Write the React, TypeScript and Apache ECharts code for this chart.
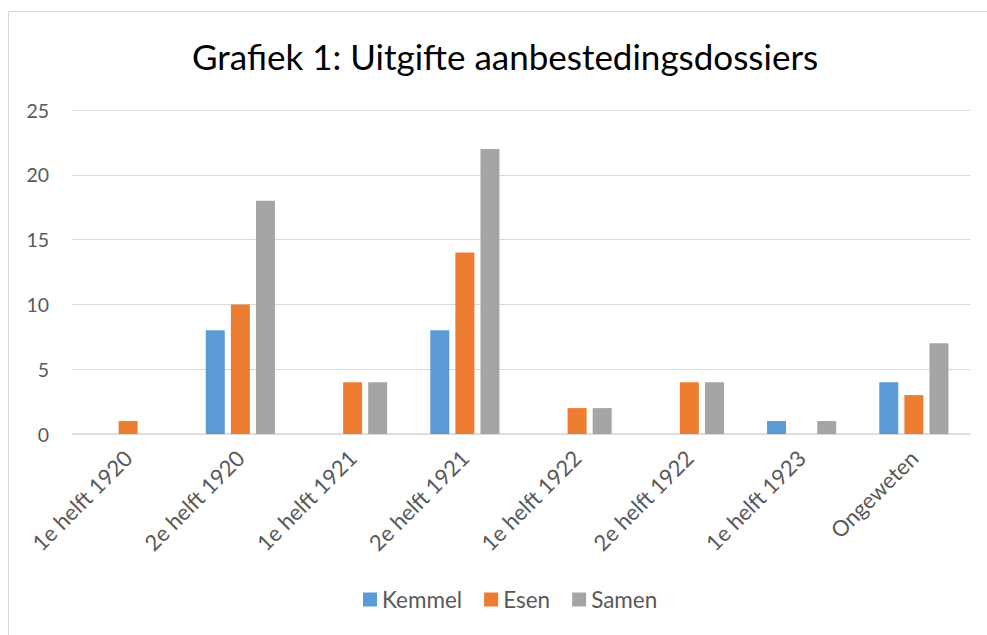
import React, { useEffect, useRef } from "react";
import * as echarts from "echarts";

const categories = [
  "1e helft 1920",
  "2e helft 1920",
  "1e helft 1921",
  "2e helft 1921",
  "1e helft 1922",
  "2e helft 1922",
  "1e helft 1923",
  "Ongeweten",
];
const kemmel = [0, 8, 0, 8, 0, 0, 1, 4];
const esen = [1, 10, 4, 14, 2, 4, 0, 3];
const samen = [0, 18, 4, 22, 2, 4, 1, 7];
const seriesNames = ["Kemmel", "Esen", "Samen"];
const colors = ["#5B9BD5", "#ED7D31", "#A5A5A5"];

const FONT = "Lato, 'Open Sans', sans-serif";

export default function App() {
  const ref = useRef<HTMLDivElement>(null);
  useEffect(() => {
    document.body.style.margin = "0";
    const chart = echarts.init(ref.current!, undefined, { renderer: "svg" });
    const data = [kemmel, esen, samen];
    chart.setOption({
      animation: false,
      backgroundColor: "#ffffff",
      textStyle: { fontFamily: FONT },
      title: {
        text: "Grafiek 1: Uitgifte aanbestedingsdossiers",
        left: 187,
        top: 33,
        textStyle: { fontFamily: FONT, fontSize: 35, fontWeight: "normal", color: "#000000" },
      },
      legend: {
        data: seriesNames,
        bottom: 19,
        left: 358,
        icon: "rect",
        itemWidth: 14,
        itemHeight: 14,
        itemGap: 22,
        textStyle: { fontFamily: FONT, fontSize: 22.5, color: "#595959" },
      },
      grid: { left: 72, right: 17, top: 110, bottom: 201, containLabel: false },
      xAxis: {
        type: "category",
        data: categories,
        axisLine: { lineStyle: { color: "#D9D9D9", width: 1.5 } },
        axisTick: { show: false },
        axisLabel: {
          rotate: 45,
          interval: 0,
          margin: 20,
          fontFamily: FONT,
          fontSize: 22,
          color: "#595959",
        },
      },
      yAxis: {
        type: "value",
        min: 0,
        max: 25,
        interval: 5,
        axisLine: { show: false },
        axisTick: { show: false },
        splitLine: { lineStyle: { color: "#D9D9D9", width: 1 } },
        axisLabel: { margin: 23, fontFamily: FONT, fontSize: 19.5, color: "#595959" },
      },
      graphic: [
        { type: "line", shape: { x1: 8.5, y1: 11.5, x2: 987, y2: 11.5 }, style: { stroke: "#D9D9D9", lineWidth: 1 } },
        { type: "line", shape: { x1: 8.5, y1: 11.5, x2: 8.5, y2: 635 }, style: { stroke: "#D9D9D9", lineWidth: 1 } },
      ],
      series: seriesNames.map((name, i) => ({
        name,
        type: "bar",
        data: data[i],
        barWidth: 19,
        barGap: "32%",
        itemStyle: { color: colors[i] },
      })),
    });
    return () => chart.dispose();
  }, []);
  return <div ref={ref} style={{ width: 987, height: 635 }} />;
}
